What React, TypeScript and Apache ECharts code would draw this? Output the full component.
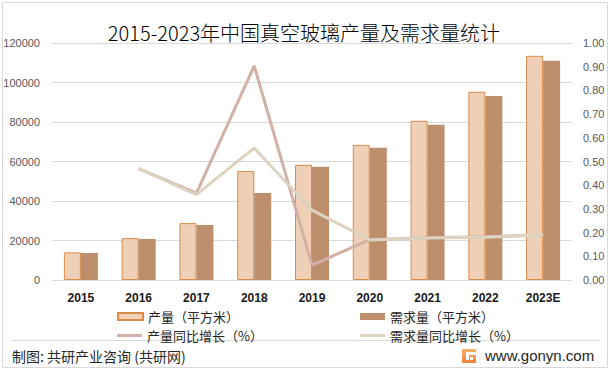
import React, { useEffect, useRef } from "react";
import * as echarts from "echarts";

const categories = ["2015", "2016", "2017", "2018", "2019", "2020", "2021", "2022", "2023E"];
const production = [14000, 21200, 28800, 55200, 58300, 68400, 80600, 95300, 113500];
const demand = [13700, 20800, 27800, 44000, 57300, 66900, 78600, 93200, 111000];
const productionGrowth = [null, 0.47, 0.367, 0.903, 0.063, 0.17, 0.178, 0.182, 0.19];
const demandGrowth = [null, 0.47, 0.36, 0.557, 0.295, 0.169, 0.177, 0.18, 0.19];

const seriesNames = ["产量（平方米）", "需求量（平方米）", "产量同比增长（%）", "需求量同比增长（%）"];
const titleText = "2015-2023年中国真空玻璃产量及需求量统计";
const footerLeft = "制图: 共研产业咨询 (共研网)";
const footerRight = "www.gonyn.com";

const CJK = "'Noto Sans CJK SC', 'Noto Sans', sans-serif";
const NUM = "'Liberation Sans', Arial, sans-serif";

export default function App() {
  const ref = useRef<HTMLDivElement>(null);
  useEffect(() => {
    if (!ref.current) return;
    const chart = echarts.init(ref.current, undefined, { renderer: "svg" });
    const legendText = { fontSize: 13, color: "#262626", fontFamily: CJK };
    chart.setOption({
      animation: false,
      backgroundColor: "#ffffff",
      grid: { left: 52, right: 39, top: 43, bottom: 90, containLabel: false },
      legend: [
        { data: [seriesNames[0]], left: 112, top: 305, itemWidth: 25, itemHeight: 7, itemGap: 4, icon: "rect", textStyle: legendText },
        { data: [seriesNames[1]], left: 355, top: 305, itemWidth: 25, itemHeight: 7, itemGap: 4, icon: "rect", textStyle: legendText },
        { data: [{ name: seriesNames[2], icon: "rect" }], left: 112, top: 324, itemWidth: 25, itemHeight: 3, itemGap: 4, textStyle: legendText, itemStyle: { color: "#D2B0A5", borderWidth: 0 }, lineStyle: { width: 0 } },
        { data: [{ name: seriesNames[3], icon: "rect" }], left: 355, top: 324, itemWidth: 25, itemHeight: 3, itemGap: 4, textStyle: legendText, itemStyle: { color: "#DCD4C1", borderWidth: 0 }, lineStyle: { width: 0 } },
      ],
      xAxis: {
        type: "category",
        data: categories,
        axisLine: { show: true, lineStyle: { color: "#D9D9D9", width: 1 } },
        axisTick: { show: false },
        axisLabel: { color: "#1a1a1a", fontWeight: "bold", fontSize: 12, fontFamily: NUM, margin: 12 },
      },
      yAxis: [
        {
          type: "value",
          min: 0,
          max: 120000,
          interval: 20000,
          axisLine: { show: false },
          axisTick: { show: false },
          splitLine: { lineStyle: { color: "#D9D9D9", width: 1 } },
          axisLabel: {
            color: "#595959",
            fontSize: 11,
            fontFamily: NUM,
            margin: 12,
            formatter: (v: number) => String(v),
          },
        },
        {
          type: "value",
          min: 0,
          max: 1,
          interval: 0.1,
          axisLine: { show: false },
          axisTick: { show: false },
          splitLine: { show: false },
          axisLabel: {
            color: "#595959",
            fontSize: 11,
            fontFamily: NUM,
            margin: 11,
            formatter: (v: number) => v.toFixed(2),
          },
        },
      ],
      series: [
        {
          name: seriesNames[0],
          type: "bar",
          data: production,
          barWidth: 17,
          barGap: "0%",
          itemStyle: { color: "#EFCFB5", borderColor: "#D98B4C", borderWidth: 1 },
        },
        {
          name: seriesNames[1],
          type: "bar",
          data: demand,
          barWidth: 17,
          barGap: "0%",
          itemStyle: { color: "#BC8E6C" },
        },
        {
          name: seriesNames[2],
          type: "line",
          yAxisIndex: 1,
          data: productionGrowth,
          symbol: "none",
          lineStyle: { color: "#D2B0A5", width: 3 },
          itemStyle: { color: "#D2B0A5" },
        },
        {
          name: seriesNames[3],
          type: "line",
          yAxisIndex: 1,
          data: demandGrowth,
          symbol: "none",
          lineStyle: { color: "#DCD4C1", width: 3 },
          itemStyle: { color: "#DCD4C1" },
        },
      ],
      graphic: [
        {
          type: "rect",
          shape: { x: 2.5, y: 2.5, width: 605, height: 365 },
          style: { fill: "none", stroke: "#D9D9D9", lineWidth: 1 },
          silent: true,
        },
        {
          type: "line",
          shape: { x1: 12, y1: 340.5, x2: 600, y2: 340.5 },
          style: { stroke: "#D9D9D9", lineWidth: 1 },
          silent: true,
        },
        {
          type: "text",
          style: {
            text: titleText,
            x: 304,
            y: 32,
            textAlign: "center",
            textVerticalAlign: "middle",
            fontSize: 20,
            fontWeight: 300,
            fontFamily: CJK,
            fill: "#000000",
          },
        },
        {
          type: "text",
          style: {
            text: footerLeft,
            x: 12,
            y: 356,
            textAlign: "left",
            textVerticalAlign: "middle",
            fontSize: 14,
            fontFamily: CJK,
            fill: "#262626",
          },
        },
        {
          type: "rect",
          shape: { x: 462, y: 349, width: 14, height: 14, r: 1 },
          style: {
            fill: new echarts.graphic.LinearGradient(0, 0, 0, 1, [
              { offset: 0, color: "#F7B26A" },
              { offset: 1, color: "#EE7E3A" },
            ]),
          },
        },
        {
          type: "rect",
          shape: { x: 466, y: 352, width: 10, height: 3 },
          style: { fill: "#ffffff" },
        },
        {
          type: "rect",
          shape: { x: 466, y: 355, width: 3, height: 5 },
          style: { fill: "#ffffff" },
        },
        {
          type: "rect",
          shape: { x: 470, y: 357, width: 3, height: 3 },
          style: { fill: "#ffffff" },
        },
        {
          type: "text",
          style: {
            text: footerRight,
            x: 485,
            y: 355,
            textAlign: "left",
            textVerticalAlign: "middle",
            fontSize: 15,
            fontFamily: NUM,
            fill: "#262626",
          },
        },
      ],
    });
    return () => chart.dispose();
  }, []);
  return (
    <div
      ref={ref}
      style={{ position: "fixed", left: 0, top: 0, width: 611, height: 370 }}
    />
  );
}
